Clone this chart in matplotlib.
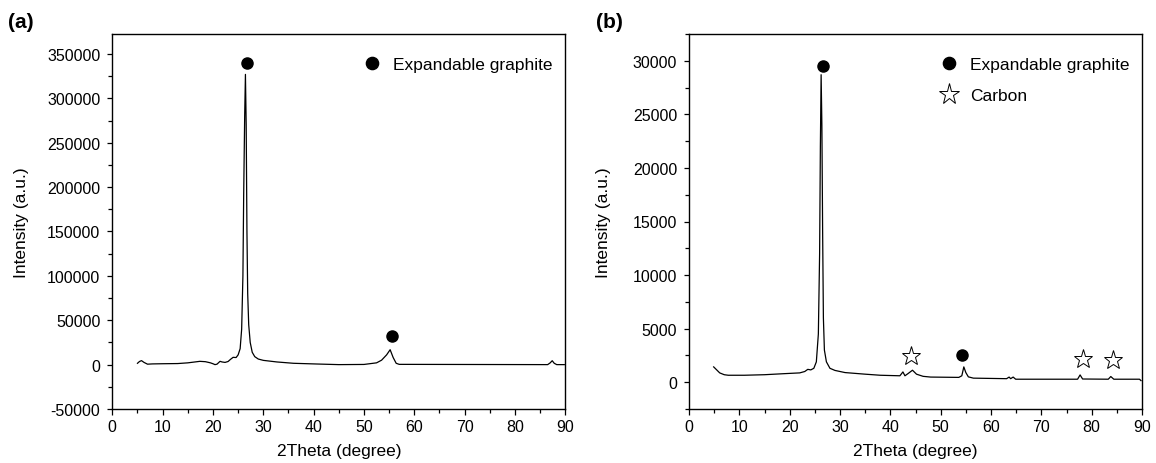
import numpy as np
import matplotlib
matplotlib.use("Agg")
import matplotlib.pyplot as plt
from matplotlib.ticker import MultipleLocator

plt.rcParams["font.family"] = ["Liberation Sans", "DejaVu Sans"]
plt.rcParams["axes.unicode_minus"] = False

# (a) XRD pattern, 2theta (deg) vs intensity
theta_a = [5.0, 5.4, 5.8, 6.3, 7.0, 8.0, 10.0, 13.0, 15.0, 17.4, 18.5, 19.5, 20.0, 20.4,
           20.8, 21.4, 21.8, 22.4, 23.0, 23.5, 24.0, 24.6, 25.0, 25.4, 25.7, 25.95, 26.1,
           26.3, 26.45, 26.6, 26.75, 26.9, 27.1, 27.4, 27.8, 28.3, 29.0, 30.0, 32.7, 36.0,
           40.6, 45.0, 50.0, 52.5, 53.5, 54.5, 55.2, 55.8, 56.4, 57.0, 86.5, 87.0, 87.4,
           87.8, 88.3, 89.8]
inten_a = [1500, 3500, 4500, 2500, 500, 800, 1000, 1200, 2000, 3700, 3300, 2000, 1000, 0,
           500, 3700, 3000, 2500, 3500, 6000, 8200, 8000, 11000, 18000, 40000, 100000, 190000,
           280000, 327000, 270000, 150000, 80000, 45000, 25000, 13900, 9000, 6300, 4800, 3000, 1500,
           700, 0, 200, 2000, 5000, 11000, 16800, 8000, 1500, 300, 0, 2000, 4400,
           1500, 0, 0]

# (b) XRD pattern
theta_b = [4.9, 5.5, 6.1, 7.0, 7.8, 11.0, 15.0, 19.0, 22.0, 23.0, 23.6, 24.2, 24.8, 25.3,
           25.7, 25.95, 26.1, 26.25, 26.4, 26.55, 26.7, 26.9, 27.3, 28.0, 29.0, 31.0, 35.0,
           38.0, 41.9, 42.5, 42.9, 43.5, 44.4, 45.2, 46.5, 48.0, 53.6, 54.2, 54.6, 55.0, 55.5,
           56.5, 63.1, 63.6, 63.9, 64.4, 64.9, 77.2, 77.7, 78.2, 83.3, 83.8, 84.4, 89.5, 89.8]
inten_b = [1430, 1150, 870, 700, 650, 650, 700, 800, 870, 1000, 1200, 1150, 1300, 1900,
           4500, 12000, 22000, 28700, 24000, 14000, 6000, 3000, 1900, 1300, 1100, 900, 750,
           650, 600, 960, 600, 800, 1120, 750, 550, 480, 450, 600, 1430, 900, 500,
           380, 330, 480, 330, 480, 280, 280, 680, 300, 280, 530, 280, 280, 150]

# peak assignments
graphite_a_x = [26.75, 55.5]
graphite_a_y = [339500, 32000]
graphite_b_x = [26.6, 54.3]
graphite_b_y = [29540, 2550]
carbon_b_x = [44.1, 78.2, 84.3]
carbon_b_y = [2425, 2200, 2050]

TICK_FS = 11.5
LABEL_FS = 12.5

fig = plt.figure(figsize=(11.56, 4.64), dpi=100)
ax_a = fig.add_axes([112.3 / 1156, 54 / 464, 453 / 1156, 375 / 464])
ax_b = fig.add_axes([689 / 1156, 54 / 464, 453 / 1156, 375 / 464])


def style_axes(ax, ylim, ymajor, yminor):
    ax.set_xlim(0, 90)
    ax.set_ylim(*ylim)
    ax.xaxis.set_major_locator(MultipleLocator(10))
    ax.xaxis.set_minor_locator(MultipleLocator(5))
    ax.yaxis.set_major_locator(MultipleLocator(ymajor))
    ax.yaxis.set_minor_locator(MultipleLocator(yminor))
    ax.ticklabel_format(axis="y", style="plain", useOffset=False)
    ax.tick_params(which="both", direction="out", top=False, right=False,
                   width=0.9, labelsize=TICK_FS, colors="black")
    ax.tick_params(axis="x", which="major", length=4, pad=3)
    ax.tick_params(axis="y", which="major", length=3.5, pad=5)
    ax.tick_params(which="minor", length=3)
    for sp in ax.spines.values():
        sp.set_linewidth(1.0)
    ax.set_xlabel("2Theta (degree)", fontsize=LABEL_FS, labelpad=7)
    ax.set_ylabel("Intensity (a.u.)", fontsize=LABEL_FS)


legend_kw = dict(loc="upper left", frameon=False, fontsize=LABEL_FS, handlelength=1.0,
                 handletextpad=0.7, borderpad=0, borderaxespad=0, markerscale=1.1)

ax_a.plot(theta_a, inten_a, color="black", lw=0.9)
ax_a.plot(graphite_a_x, graphite_a_y, "o", color="black", ms=8, ls="none",
          label="Expandable graphite")
style_axes(ax_a, (-50000, 372500), 50000, 25000)
ax_a.yaxis.set_label_coords(-0.184, 0.5)
ax_a.legend(bbox_to_anchor=(0.555, 0.94), **legend_kw)

ax_b.plot(theta_b, inten_b, color="black", lw=0.9)
ax_b.plot(graphite_b_x, graphite_b_y, "o", color="black", ms=8, ls="none",
          label="Expandable graphite")
ax_b.plot(carbon_b_x, carbon_b_y, "*", mfc="white", mec="black", mew=0.7, ms=14, ls="none",
          label="Carbon")
style_axes(ax_b, (-2500, 32500), 5000, 2500)
ax_b.yaxis.set_label_coords(-0.172, 0.5)
ax_b.legend(bbox_to_anchor=(0.555, 0.94), labelspacing=0.95, **legend_kw)

fig.text(8 / 1156, 1 - 22 / 464, "(a)", fontsize=15, fontweight="bold", va="center")
fig.text(596 / 1156, 1 - 22 / 464, "(b)", fontsize=15, fontweight="bold", va="center")

fig.savefig("out.png", dpi=100)
